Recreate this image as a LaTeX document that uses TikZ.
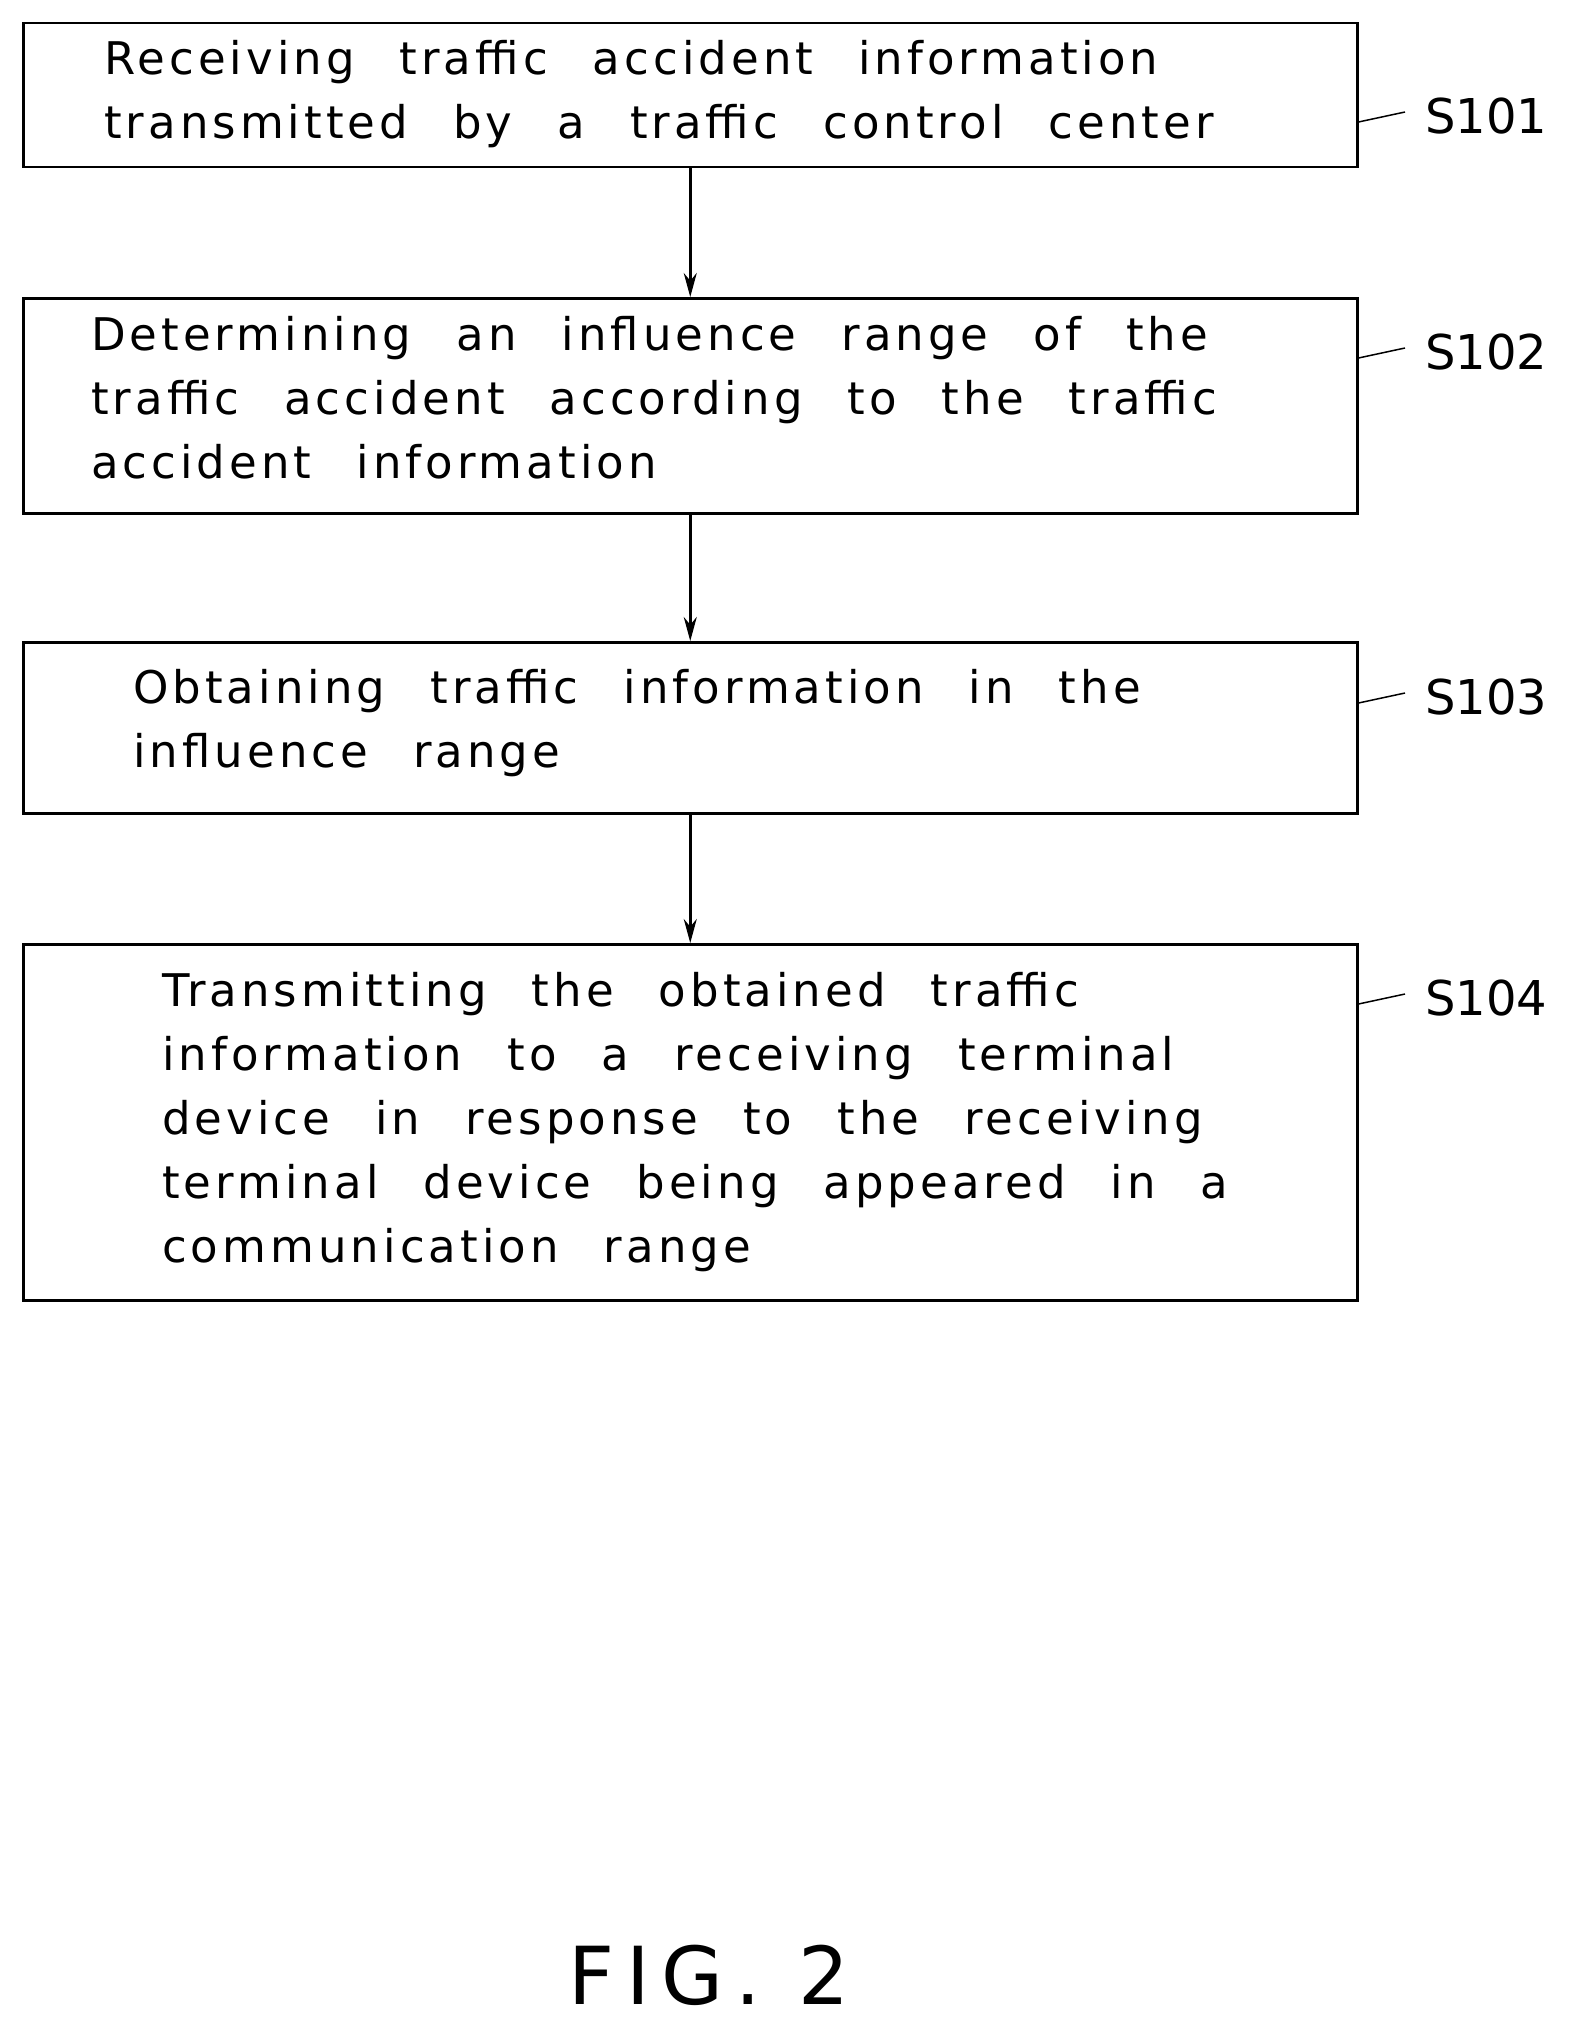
\documentclass[tikz,border=0pt]{standalone}
\usepackage{fontspec}
\setmainfont{DejaVu Sans}
\usetikzlibrary{arrows.meta}
\newcommand\mywsp{\spaceskip=1.0em plus 0.2em\relax}
\begin{document}
\begin{tikzpicture}[x=1pt,y=-1pt,
  box/.style={draw,line width=2.5pt},
  txt/.style={anchor=north west,align=left,inner sep=0pt,font=\fontsize{45}{64}\selectfont\addfontfeature{LetterSpace=9}},
  lab/.style={anchor=west,inner sep=0pt,font=\fontsize{48}{50}\selectfont},
  arr/.style={-{Stealth[length=24pt,width=13pt]},line width=2.5pt},
  lead/.style={line width=1.5pt}]
\useasboundingbox (0,0) rectangle (1579,2036);
\node[box,minimum width=1334pt,minimum height=144pt,anchor=north west] (b1) at (22,22) {};
\node[box,minimum width=1334pt,minimum height=215pt,anchor=north west] (b2) at (22,297) {};
\node[box,minimum width=1334pt,minimum height=171pt,anchor=north west] (b3) at (22,641) {};
\node[box,minimum width=1334pt,minimum height=356pt,anchor=north west] (b4) at (22,943) {};
\node[txt] (t1) at (104,40) {\mywsp Receiving traffic accident information\\\mywsp transmitted by a traffic control center};
\node[txt] (t2) at (91,316) {\mywsp Determining an influence range of the\\\mywsp traffic accident according to the traffic\\\mywsp accident information};
\node[txt] (t3) at (133,669) {\mywsp Obtaining traffic information in the\\\mywsp influence range};
\node[txt] (t4) at (162,972) {\mywsp Transmitting the obtained traffic\\\mywsp information to a receiving terminal\\\mywsp device in response to the receiving\\\mywsp terminal device being appeared in a\\\mywsp communication range};
\draw[arr] (b1.south) -- (b2.north);
\draw[arr] (b2.south) -- (b3.north);
\draw[arr] (b3.south) -- (b4.north);
\node[lab] (l1) at (1425,116) {S101};
\node[lab] (l2) at (1425,352) {S102};
\node[lab] (l3) at (1425,697) {S103};
\node[lab] (l4) at (1425,998) {S104};
\coordinate (c1) at (1405,112); \draw[lead] (b1.east|-0,122) -- (c1);
\coordinate (c2) at (1405,348); \draw[lead] (b2.east|-0,358) -- (c2);
\coordinate (c3) at (1405,693); \draw[lead] (b3.east|-0,703) -- (c3);
\coordinate (c4) at (1405,994); \draw[lead] (b4.east|-0,1004) -- (c4);
\node[font=\fontsize{80}{90}\selectfont\addfontfeature{LetterSpace=15}] (fig) at (709,1975) {FIG. 2};
\end{tikzpicture}
\end{document}
